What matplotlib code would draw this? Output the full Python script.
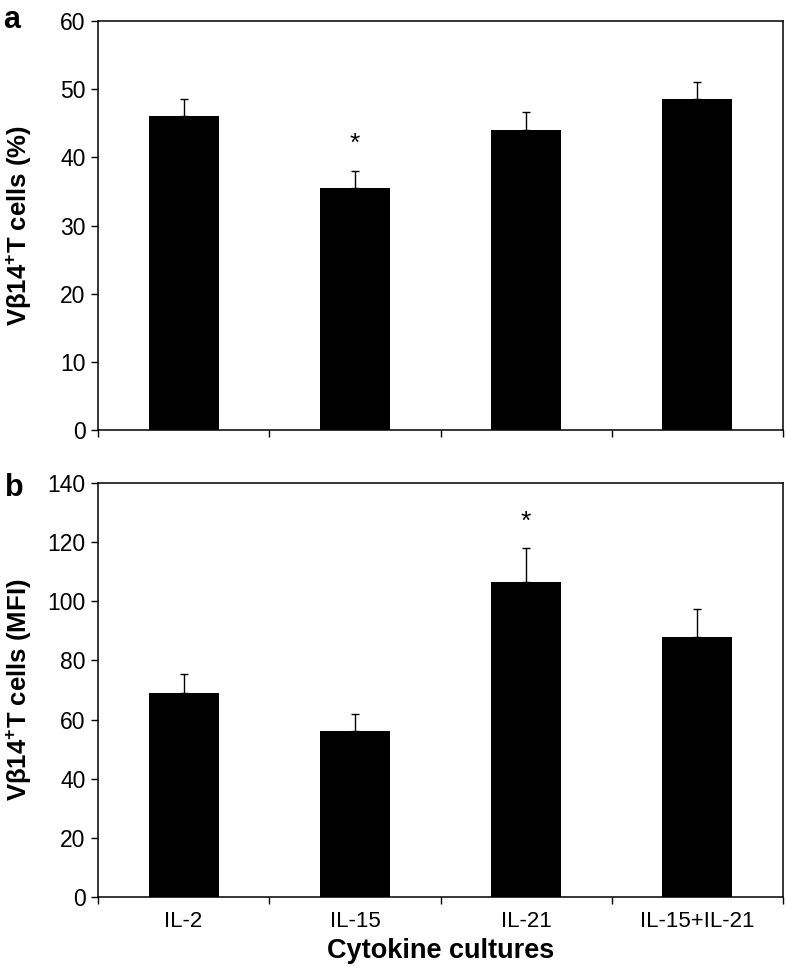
import matplotlib
matplotlib.use("Agg")
import matplotlib.pyplot as plt
import matplotlib.transforms as mtransforms
import numpy as np

plt.rcParams['font.family'] = ['Liberation Sans', 'DejaVu Sans']
plt.rcParams['mathtext.fontset'] = 'custom'
plt.rcParams['mathtext.rm'] = 'Liberation Sans'
plt.rcParams['mathtext.bf'] = 'Liberation Sans:bold'
plt.rcParams['mathtext.it'] = 'Liberation Sans:italic'

categories = ["IL-2", "IL-15", "IL-21", "IL-15+IL-21"]
pct_values = [46.0, 35.5, 44.0, 48.5]
pct_errors = [2.5, 2.5, 2.7, 2.5]
mfi_values = [69.0, 56.0, 106.5, 88.0]
mfi_errors = [6.5, 6.0, 11.5, 9.5]
pct_star = [None, 42.0, None, None]
mfi_star = [None, None, 127.0, None]

fig = plt.figure(figsize=(7.86, 9.72), dpi=100)
W, H = 786, 972
ax1 = fig.add_axes([98 / W, 1 - 430 / H, (783 - 98) / W, (430 - 21) / H])
ax2 = fig.add_axes([98 / W, 1 - 897 / H, (783 - 98) / W, (897 - 483) / H])

x = np.arange(len(categories))

def draw(ax, vals, errs, stars, ymax, step):
    ax.bar(x, vals, width=0.41, color='black', zorder=2)
    ax.errorbar(x, vals, yerr=[np.zeros(len(vals)), errs], fmt='none',
                ecolor='black', elinewidth=1.0, capsize=2.6, capthick=1.0, zorder=1)
    for xi, s in zip(x, stars):
        if s is not None:
            ax.text(xi, s, '*', ha='center', va='center', fontsize=19)
    ax.set_xlim(-0.5, len(categories) - 0.5)
    ax.set_ylim(0, ymax)
    ax.set_yticks(np.arange(0, ymax + 1, step))
    ax.tick_params(axis='y', labelsize=16.5, length=5, direction='out', width=1, pad=4)
    ax.set_xticks(np.arange(-0.5, len(categories) + 0.5, 1.0))
    ax.tick_params(axis='x', length=5, direction='out', width=1, labelbottom=False)
    for sp in ax.spines.values():
        sp.set_linewidth(1.1)

draw(ax1, pct_values, pct_errors, pct_star, 60, 10)
draw(ax2, mfi_values, mfi_errors, mfi_star, 140, 20)

fig.text(19 / W, 1 - 225 / H, 'Vβ14$^{\\mathbf{+}}$T cells (%)', rotation=90,
         ha='center', va='center', fontsize=18.5, fontweight='bold')
fig.text(19 / W, 1 - 690 / H, 'Vβ14$^{\\mathbf{+}}$T cells (MFI)', rotation=90,
         ha='center', va='center', fontsize=18.5, fontweight='bold')

trans = mtransforms.blended_transform_factory(ax2.transData, fig.transFigure)
for xi, c in zip(x, categories):
    ax2.text(xi, 1 - 911 / H, c, transform=trans, ha='center', va='top', fontsize=16)
fig.text((98 + 783) / 2 / W, 1 - 938 / H, 'Cytokine cultures',
         ha='center', va='top', fontsize=19.5, fontweight='bold')

fig.text(3 / W, 1 - 20 / H, 'a', fontsize=22, fontweight='bold', va='center')
fig.text(5 / W, 1 - 488 / H, 'b', fontsize=22, fontweight='bold', va='center')

fig.savefig('out.png', dpi=100)
